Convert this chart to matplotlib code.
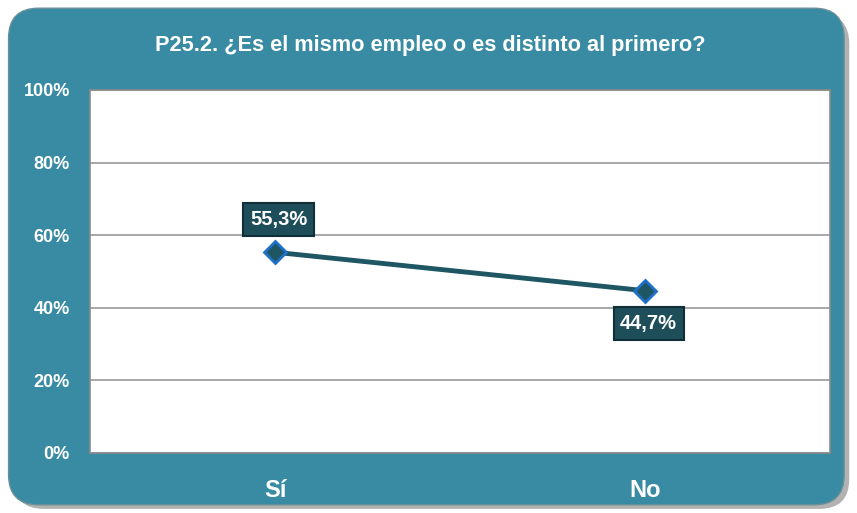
import matplotlib.pyplot as plt
from matplotlib.patches import FancyBboxPatch
from matplotlib.ticker import FuncFormatter

# data
categories = ["Sí", "No"]
values = [55.3, 44.7]
labels = ["55,3%", "44,7%"]
title = "P25.2. ¿Es el mismo empleo o es distinto al primero?"

plt.rcParams['font.family'] = ['Liberation Sans Narrow', 'Liberation Sans', 'DejaVu Sans']
plt.rcParams['font.weight'] = 'bold'

panel = "#388BA3"
dark = "#1F5664"

fig = plt.figure(figsize=(8.57, 5.13), dpi=100)

# shadow + rounded panel
sh = FancyBboxPatch((0.016, 0.008), 0.975, 0.965, boxstyle="round,pad=0,rounding_size=0.035",
                    transform=fig.transFigure, facecolor="#7f7f7f", edgecolor="none", alpha=0.6,
                    mutation_aspect=857 / 513, zorder=-2)
fig.patches.append(sh)
pan = FancyBboxPatch((0.010, 0.016), 0.975, 0.968, boxstyle="round,pad=0,rounding_size=0.035",
                     transform=fig.transFigure, facecolor=panel, edgecolor="#6a8f99", linewidth=1.0,
                     mutation_aspect=857 / 513, zorder=-1)
fig.patches.append(pan)

ax = fig.add_axes([0.105, 0.117, 0.8635, 0.7076])
ax.set_zorder(2)
ax.set_facecolor("white")
x = list(range(len(categories)))
ax.plot(x, values, color=dark, linewidth=3.5, marker="D", markersize=11,
        markerfacecolor=dark, markeredgecolor="#1E70C8", markeredgewidth=2, zorder=3)

ax.set_xlim(-0.5, 1.5)
ax.set_ylim(0, 100)
ax.set_yticks(range(0, 101, 20))
ax.yaxis.set_major_formatter(FuncFormatter(lambda v, p: f"{v:.0f}%"))
ax.set_xticks(x)
ax.set_xticklabels(categories, fontsize=17, color="white", fontweight="bold")
ax.tick_params(axis="x", length=0, pad=18.5)
ax.tick_params(axis="y", length=0, pad=14.5, labelsize=13, labelcolor="white")
for t in ax.get_yticklabels():
    t.set_fontweight("bold")
ax.grid(axis="y", color="#a0a0a0", linewidth=1.3)
ax.set_axisbelow(True)
for s in ax.spines.values():
    s.set_color("#8c8c8c")
    s.set_linewidth(1.2)

offsets = [9, -9]
for xi, v, lab, off in zip(x, values, labels, offsets):
    ax.text(xi + 0.01, v + off, lab, ha="center", va="center", fontsize=14.5, color="white",
            fontweight="bold", zorder=4,
            bbox=dict(boxstyle="square,pad=0.33", facecolor="#1F4E5B", edgecolor="#0f2e36", linewidth=1.5))

fig.text(0.502, 0.912, title, ha="center", va="center", fontsize=15.7, color="white", fontweight="bold")

fig.savefig("out.png", dpi=100)
